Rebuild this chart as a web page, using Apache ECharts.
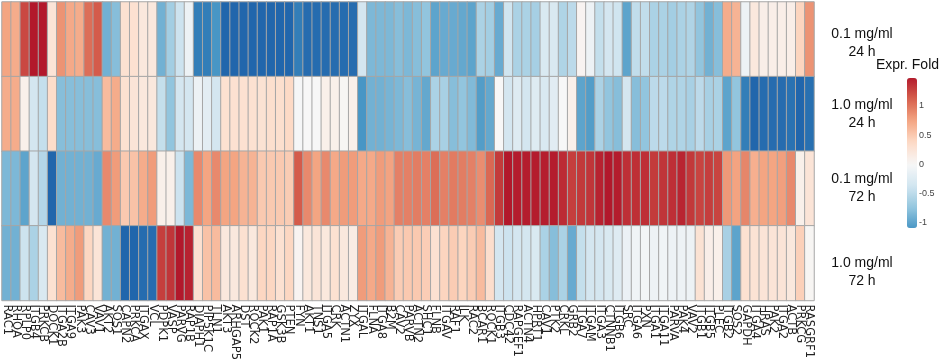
<!DOCTYPE html>
<html>
<head>
<meta charset="utf-8">
<script src="https://cdn.jsdelivr.net/npm/echarts@6/dist/echarts.min.js"></script>
<style>
    html, body { margin: 0; padding: 0; background: #fff; }
    #main { width: 941px; height: 363px; }
</style>
</head>
<body>
<div id="main"></div>
<script>
var genes = ['RAC1', 'RHOA', 'RPLP0', 'ITGB4', 'PRKCB', 'DOCK1', 'ITGA2B', 'ITGA9', 'PAK3', 'CAV3',
    'VAV1', 'AKT2', 'SOS1', 'CAPN2', 'PRKCA', 'ITGAX', 'VCL', 'PDPK1', 'VASP', 'PARVG',
    'RAP1B', 'DIAPH1', 'PIP5K1C', 'TLN1', 'AKT3', 'ARHGAP5', 'DST', 'ROCK2', 'PAK1', 'RAP1A',
    'GSK3B', 'PTEN', 'FYN', 'AKT1', 'TNS1', 'ITGA5', 'CRK', 'ACTN1', 'ZYX', 'ITGAL',
    'FLNA', 'ITGA8', 'B2M', 'CAV2', 'PARVB', 'ACTN2', 'SHC1', 'FLNB', 'ITGAV', 'RAF1',
    'ILK', 'RAC2', 'BCAR1', 'ROCK1', 'ITGB3', 'CDC42', 'RAPGEF1', 'ACTN4', 'HPRT1', 'CAV1',
    'PTK2', 'CRKL', 'GRB2', 'ITGA7', 'ITGAM', 'ITGA3', 'CTNNB1', 'ITGB6', 'SRC', 'ITGA6',
    'PXN', 'ITGA1', 'ITGA11', 'PARVA', 'PAK4', 'VAV2', 'ITGB1', 'ITGB5', 'PLEC', 'ITGB2',
    'SOS2', 'GAPDH', 'ITGA4', 'HRAS', 'PAK2', 'ITGA2', 'ACTB', 'PRKCG', 'RASGRF1'];

var conditions = ['0.1 mg/ml\n24 h', '1.0 mg/ml\n24 h', '0.1 mg/ml\n72 h', '1.0 mg/ml\n72 h'];

// expression fold per condition, same order as genes
var fold01mg24h = [0.75, 0.7, 1.25, 1.5, 1.5, 0.25, 0.85, 0.72, 0.7, 1.05,
    1.15, -0.9, -0.8, 0.3, 0.3, 0.2, 0.2, -0.9, -0.65, -0.4,
    -0.1, -1.3, -1.3, -1.1, -1.5, -1.5, -1.5, -1.5, -1.5, -1.5,
    -1.5, -1.5, -1.3, -1.45, -1.45, -1.45, -1.45, -1.45, -1.45, -0.35,
    -0.85, -0.85, -0.85, -0.8, -0.85, -0.8, -0.75, -1.0, -0.95, -0.95,
    -0.97, -1.0, -0.6, -0.65, -0.95, -0.38, -0.6, -0.6, -0.63, -0.3,
    -0.3, -0.58, -0.5, 0.05, -0.1, -0.45, -0.35, -0.38, -1.0, -0.47,
    -0.47, -0.6, -0.6, -0.65, -0.6, -0.58, -0.75, -0.9, -0.8, 0.7,
    0.65, -0.1, 0.2, 0.12, 0.12, 0.12, 0.12, 0.42, 0.85];

var fold10mg24h = [0.7, 0.7, 0.1, -0.35, -0.45, 0.35, -0.8, -0.8, -0.8, -0.8,
    -0.8, 0.6, 0.7, 0.3, 0.25, 0.2, 0.2, -0.45, -0.75, -0.35,
    -0.35, -0.1, -0.2, -0.35, 0.3, 0.3, 0.3, 0.3, 0.28, 0.32,
    0.32, 0.38, -0.02, 0, 0, 0.1, 0.1, 0.03, 0.1, -1.1,
    -0.9, -0.9, -0.88, -0.85, -0.8, -0.88, -0.97, -0.6, -0.62, -0.8,
    -0.75, -0.83, -1.05, -0.97, 0, -0.35, -0.25, -0.35, -0.25, -0.3,
    -0.22, 0, 0.1, -1.0, -1.05, -0.6, -0.75, -0.8, -0.35, -0.8,
    -0.75, -0.5, -0.5, -0.58, -0.58, -0.62, -0.5, -0.62, -0.6, -1.0,
    -0.75, -1.3, -1.5, -1.45, -1.45, -1.45, -1.4, -1.5, -1.42];

var fold01mg72h = [-0.85, -0.85, -1.0, -0.35, -0.55, -1.5, -0.9, -0.9, -0.9, -0.9,
    -0.95, 0.9, 0.8, 0.5, 0.55, 0.7, 0.8, 0.1, 0.1, -0.4,
    -0.85, 0.9, 0.75, 0.9, 0.75, 0.75, 0.65, 0.65, 0.5, 0.5,
    0.5, 0.48, 1.15, 0.9, 0.75, 0.9, 0.72, 0.8, 0.8, 0.72,
    0.72, 0.8, 0.76, 0.95, 0.95, 0.97, 0.95, 1.05, 0.95, 0.98,
    0.97, 0.95, 0.88, 1.08, 1.32, 1.5, 1.48, 1.48, 1.48, 1.47,
    1.48, 1.4, 1.3, 1.33, 1.35, 1.45, 1.5, 1.48, 1.38, 1.38,
    1.38, 1.32, 1.35, 1.38, 1.43, 1.33, 1.27, 1.3, 1.27, 0.82,
    0.76, 0.92, 0.68, 0.75, 0.75, 0.78, 0.9, 0.1, 0.25];

var fold10mg72h = [-0.9, -0.9, -0.4, -0.6, -0.3, 0.3, 0.6, 0.7, 0.8, 0.4,
    0.25, -0.9, -0.9, -1.5, -1.5, -1.45, -1.45, 1.3, 1.35, 1.5,
    1.45, 0.3, 0.55, 0.6, 0.2, 0.2, 0.3, 0.2, 0.4, 0.4,
    0.3, 0.4, 0.05, 0.2, 0.25, 0.2, 0.3, 0.2, 0.15, 0.8,
    0.72, 0.8, 0.65, 0.48, 0.5, 0.5, 0.47, 0.3, 0.42, 0.48,
    0.42, 0.48, 0.6, 0.33, -0.35, -0.4, -0.35, -0.35, -0.3, -0.6,
    -0.8, -0.6, -0.95, -0.45, -0.35, -0.35, -0.3, -0.25, -0.12, -0.07,
    -0.05, -0.1, -0.07, -0.1, -0.1, -0.1, 0.28, 0.12, 0.1, -0.62,
    -1.0, 0.3, 0.27, 0.25, 0.25, 0.25, 0.2, 0.45, 0.03];

var rdbu = ['#2166ac', '#4393c3', '#92c5de', '#d1e5f0', '#f7f7f7', '#fddbc7', '#f4a582', '#d6604d', '#b2182b'];
var scaleMin = -1.5, scaleMax = 1.5;
var legendMin = -1.09, legendMax = 1.48;

var rows = [fold01mg24h, fold10mg24h, fold01mg72h, fold10mg72h];
var cells = [];
for (var r = 0; r < rows.length; r++) {
    for (var c = 0; c < genes.length; c++) {
        cells.push([c, r, rows[r][c]]);
    }
}

// legend bar only shows part of the colour scale
var legendColors = [];
for (var i = 0; i <= 24; i++) {
    var v = legendMin + (legendMax - legendMin) * i / 24;
    legendColors.push(echarts.color.lerp((v - scaleMin) / (scaleMax - scaleMin), rdbu));
}

var chart = echarts.init(document.getElementById('main'));

var option = {
    animation: false,
    title: {
        text: 'Expr. Fold',
        left: 876,
        top: 58,
        padding: 0,
        textStyle: { fontFamily: 'Liberation Sans', fontSize: 14, fontWeight: 'normal', color: '#111' }
    },
    grid: [
        { left: 2, top: 2, width: 812, height: 300 },
        { left: 907, top: 78, width: 10, height: 150 }
    ],
    xAxis: [{
        type: 'category',
        data: genes,
        gridIndex: 0,
        axisLine: { show: false },
        axisTick: { show: false },
        splitArea: { show: false },
        axisLabel: {
            interval: 0,
            rotate: -90,
            margin: 4,
            fontFamily: 'DejaVu Sans',
            fontSize: 11.5,
            color: '#222'
        }
    }, {
        type: 'value',
        gridIndex: 1,
        show: false
    }],
    yAxis: [{
        type: 'category',
        data: conditions,
        gridIndex: 0,
        inverse: true,
        position: 'right',
        axisLine: { show: false },
        axisTick: { show: false },
        axisLabel: {
            margin: 48,
            align: 'center',
            fontFamily: 'Liberation Sans',
            fontSize: 14,
            lineHeight: 18,
            color: '#111',
            formatter: function (val, idx) {
                if (idx === 0) {
                    return '{gap| }\n' + val;
                }
                return idx === 3 ? '\n' + val : val;
            },
            rich: {
                gap: { lineHeight: 8, fontSize: 6 }
            }
        }
    }, {
        type: 'value',
        gridIndex: 1,
        position: 'right',
        min: legendMin,
        max: legendMax,
        axisLine: { show: false },
        axisTick: { show: false },
        splitLine: { show: false },
        axisLabel: {
            margin: 2,
            showMinLabel: false,
            showMaxLabel: false,
            fontFamily: 'Liberation Sans',
            fontSize: 9,
            color: '#444'
        }
    }],
    visualMap: [{
        type: 'continuous',
        show: false,
        seriesIndex: 0,
        min: scaleMin,
        max: scaleMax,
        inRange: { color: rdbu }
    }, {
        type: 'continuous',
        seriesIndex: 1,
        min: legendMin,
        max: legendMax,
        left: 907,
        top: 78,
        padding: 0,
        itemWidth: 10,
        itemHeight: 150,
        text: null,
        calculable: false,
        inRange: { color: legendColors }
    }],
    series: [{
        type: 'heatmap',
        xAxisIndex: 0,
        yAxisIndex: 0,
        data: cells,
        itemStyle: { borderColor: '#a6a6a6', borderWidth: 1 }
    }, {
        type: 'scatter',
        xAxisIndex: 1,
        yAxisIndex: 1,
        data: []
    }]
};

chart.setOption(option);
</script>
</body>
</html>
